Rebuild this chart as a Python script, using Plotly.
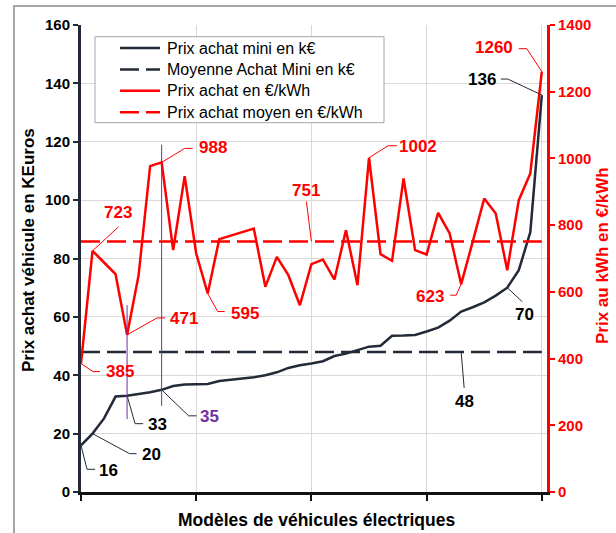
import plotly.graph_objects as go

# ---------------- data ----------------
modeles = list(range(41))
prix_mini = [16, 20, 25.2, 32.7, 33, 33.5, 34.2, 35, 36.3, 36.8, 37, 37, 38, 38.4, 38.8, 39.3,
             40, 41, 42.5, 43.4, 44, 44.8, 46.6, 47.4, 48.6, 49.8, 50.1, 53.5, 53.6, 53.8, 55,
             56.3, 58.7, 61.8, 63.3, 65, 67.3, 70, 76, 89, 136]
prix_kwh = [385, 723, 688, 653, 471, 650, 977, 988, 725, 947, 715, 595, 758, 768, 778, 790,
            615, 705, 650, 560, 683, 697, 637, 785, 620, 1002, 713, 693, 940, 725, 712, 837,
            775, 623, 750, 880, 835, 665, 875, 955, 1260]
moyenne_mini = 48
moyenne_kwh = 751

# repères violets (index du modèle, bas, haut en kEuros)
reperes_x = [4, 7]
reperes_bas = [25, 29.5]
reperes_haut = [64, 119]

FONT = "Liberation Sans, Arial, sans-serif"
DARK = "#232B38"
RED = "#FF0000"
PURPLE = "#7030A0"
GRID = "#D9D9D9"
DASH = "19px,7px"

# zone de tracé en pixels (gauche, droite, haut, bas)
PL, PR, PT, PB = 81, 547, 25, 492
W, H = 616, 533


def px(x):
    return (x - PL) / (PR - PL)


def py(y):
    return (PB - y) / (PB - PT)


fig = go.Figure()
fig.add_trace(go.Scatter(x=modeles, y=prix_mini, name="Prix achat mini en k€", mode="lines",
                         line=dict(color=DARK, width=2.5)))
fig.add_trace(go.Scatter(x=[modeles[0], modeles[-1]], y=[moyenne_mini] * 2, mode="lines",
                         name="Moyenne Achat Mini en k€",
                         line=dict(color=DARK, width=2.5, dash=DASH)))
fig.add_trace(go.Scatter(x=modeles, y=prix_kwh, name="Prix achat en €/kWh", mode="lines",
                         yaxis="y2", line=dict(color=RED, width=2.5)))
fig.add_trace(go.Scatter(x=[modeles[0], modeles[-1]], y=[moyenne_kwh] * 2, mode="lines",
                         name="Prix achat moyen en €/kWh", yaxis="y2",
                         line=dict(color=RED, width=2.5, dash=DASH)))
fig.update_traces(showlegend=False)

# étiquettes : (axe, x, y, couleur texte, couleur trait, chemin du trait en px, décalage du texte en px)
etiquettes = [
    ("y2", 0, prix_kwh[0], RED, RED, [(0, 0), (12, -8), (19, -8)], (39, -8)),
    ("y2", 1, prix_kwh[1], RED, RED, [(0, 0), (26, 24)], (25, 38)),
    ("y2", 4, prix_kwh[4], RED, RED, [(0, 0), (30, 17), (38, 17)], (57, 16)),
    ("y2", 7, prix_kwh[7], RED, RED, [(0, 0), (23, 14), (31, 14)], (51, 15)),
    ("y2", 11, prix_kwh[11], RED, RED, [(0, 0), (10, -18), (17, -18)], (37, -20)),
    ("y2", 20, moyenne_kwh, RED, RED, [(0, 0), (-5, 40)], (-5, 51)),
    ("y2", 25, prix_kwh[25], RED, RED, [(0, 0), (19, 12), (28, 12)], (49, 11)),
    ("y2", 33, prix_kwh[33], RED, RED, [(0, 0), (-5, -11), (-11, -11)], (-31, -12)),
    ("y2", 40, prix_kwh[40], RED, RED, [(0, 0), (-15, 23), (-23, 23)], (-48, 24)),
    ("y", 0, prix_mini[0], "#000000", DARK, [(0, 0), (6, -24), (14, -24)], (27, -25)),
    ("y", 1, prix_mini[1], "#000000", DARK, [(0, 0), (37, -20), (44, -20)], (59, -21)),
    ("y", 4, prix_mini[4], "#000000", DARK, [(0, 0), (8, -28), (16, -28)], (30, -29)),
    ("y", 7, prix_mini[7], PURPLE, DARK, [(0, 0), (27, -26), (35, -26)], (48, -27)),
    ("y", 33, moyenne_mini, "#000000", DARK, [(0, 0), (3, -36)], (3, -50)),
    ("y", 37, prix_mini[37], "#000000", DARK, [(0, 0), (15, -14)], (17, -27)),
    ("y", 40, prix_mini[40], "#000000", DARK, [(0, 0), (-34, 16), (-41, 16)], (-60, 16)),
]

shapes = []
annotations = []

# cadre extérieur
shapes.append(dict(type="rect", xref="paper", yref="paper", x0=px(14), x1=px(W + 10),
                   y0=py(H + 10), y1=py(6), line=dict(color="#A6A6A6", width=2), layer="below"))

for axe, xv, yv, ctext, cline, chemin, (dx, dy) in etiquettes:
    path = "M" + " L".join(f"{a},{b}" for a, b in chemin)
    shapes.append(dict(type="path", xref="x", yref=axe, xsizemode="pixel", ysizemode="pixel",
                       xanchor=xv, yanchor=yv, path=path, line=dict(color=cline, width=1)))
    annotations.append(dict(x=xv, y=yv, xref="x", yref=axe, text=f"<b>{round(yv)}</b>",
                            showarrow=False, xshift=dx, yshift=dy,
                            font=dict(family=FONT, size=17, color=ctext)))

for xv, lo, hi in zip(reperes_x, reperes_bas, reperes_haut):
    shapes.append(dict(type="line", xref="x", yref="y", x0=xv, x1=xv, y0=lo, y1=hi,
                       line=dict(color=PURPLE, width=1)))

# légende dessinée à la main (cadre, échantillons, textes)
shapes.append(dict(type="rect", xref="paper", yref="paper", x0=px(95), x1=px(384),
                   y0=py(122.7), y1=py(36.7), fillcolor="white",
                   line=dict(color="#A6A6A6", width=1)))
for k, tr in enumerate(fig.data):
    yy = py(48 + k * 21.4)
    shapes.append(dict(type="line", xref="paper", yref="paper", x0=px(120), x1=px(160),
                       y0=yy, y1=yy, line=dict(color=tr.line.color, width=2.5,
                                               dash=tr.line.dash or "solid")))
    annotations.append(dict(xref="paper", yref="paper", x=px(165), y=yy, text=tr.name,
                            xanchor="left", yanchor="middle", showarrow=False,
                            font=dict(family=FONT, size=16, color="#000000")))

# titres des axes
annotations += [
    dict(xref="paper", yref="paper", x=px(28), y=py(250), text="<b>Prix achat véhicule en KEuros</b>",
         xanchor="center", yanchor="middle", textangle=-90, showarrow=False,
         font=dict(family=FONT, size=17, color="#000000")),
    dict(xref="paper", yref="paper", x=px(603), y=py(256), text="<b>Prix au kWh en €/kWh</b>",
         xanchor="center", yanchor="middle", textangle=-90, showarrow=False,
         font=dict(family=FONT, size=17, color=RED)),
    dict(xref="paper", yref="paper", x=px(316), y=py(520), text="<b>Modèles de véhicules électriques</b>",
         xanchor="center", yanchor="middle", showarrow=False,
         font=dict(family=FONT, size=17.5, color="#000000")),
]

fig.update_layout(
    width=W, height=H,
    margin=dict(l=PL, r=W - PR, t=PT, b=H - PB),
    plot_bgcolor="white", paper_bgcolor="white",
    font=dict(family=FONT, color="#000000"),
    showlegend=False,
    xaxis=dict(range=[0, 40.45], tickvals=[0, 10, 20, 30, 40], showticklabels=False,
               ticks="outside", ticklen=6, tickwidth=2, tickcolor="#111111",
               showline=True, linecolor="#111111", linewidth=3,
               showgrid=True, gridcolor=GRID, gridwidth=1, zeroline=False),
    yaxis=dict(range=[0, 160], dtick=20, ticks="outside", ticklen=5, tickwidth=2,
               tickcolor=DARK, showline=True, linecolor=DARK, linewidth=3,
               showgrid=True, gridcolor=GRID, zeroline=False,
               tickfont=dict(family=FONT, size=15, weight="bold", color="#000000")),
    yaxis2=dict(range=[0, 1400], dtick=200, overlaying="y", side="right",
                ticks="outside", ticklen=5, tickwidth=2, tickcolor=RED,
                showline=True, linecolor=RED, linewidth=3, showgrid=False, zeroline=False,
                tickfont=dict(family=FONT, size=15, weight="bold", color=RED)),
    shapes=shapes,
    annotations=annotations,
)

fig.write_html("out.html", config={"displayModeBar": False},
               post_script="document.body.style.margin='0';")
